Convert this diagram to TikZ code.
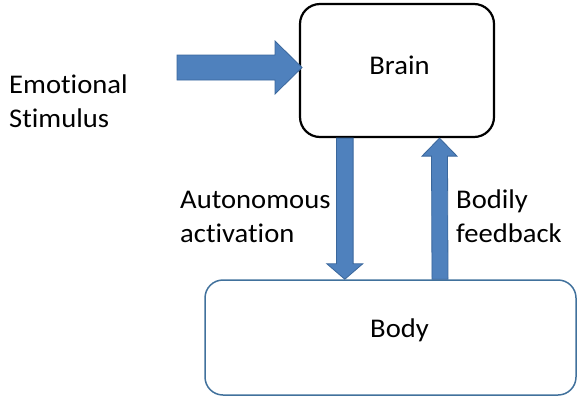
\documentclass[tikz,border=0pt]{standalone}
\usepackage{fontspec}
\setmainfont{Carlito}[FakeStretch=1.06, Ligatures=NoCommon]
\usetikzlibrary{calc}
\definecolor{arrowblue}{HTML}{4F81BD}
\definecolor{arrowedge}{HTML}{3A679C}
\definecolor{bodyedge}{HTML}{41719C}
\begin{document}
\begin{tikzpicture}[x=1pt,y=-1pt,
  txt/.style={inner sep=0pt, font=\fontsize{27}{33.5}\selectfont},
  lbl/.style={txt, align=left, anchor=base west},
  blk/.style={fill=arrowblue, draw=arrowedge, line width=0.8pt, line join=miter}]
\useasboundingbox (0,0) rectangle (577,397);
% boxes
\node[draw=black, line width=2.2pt, rounded corners=20pt,
      minimum width=194pt, minimum height=133pt, inner sep=0pt] (brain) at (397,70.5) {};
\node[draw=bodyedge, line width=1.5pt, rounded corners=18pt,
      minimum width=371pt, minimum height=115pt, inner sep=0pt] (body) at (390.5,337.5) {};
\node[txt, anchor=base] (braintext) at (399.5,74) {Brain};
\node[txt, anchor=base] (bodytext) at (399.5,337) {Body};
% labels (anchor is the baseline of the last line)
\node[lbl] (stim) at (9,127) {Emotional\\Stimulus};
\node[lbl] (auto) at (180,242) {Autonomous\\activation};
\node[lbl] (feed) at (456,242) {Bodily\\feedback};
% stimulus arrow
\coordinate (s0) at (177,67.5);
\coordinate (s1) at (302,67.5);
\draw[blk] ($(s0)+(0,-12.5)$) -- ($(s1)+(-27,-12.5)$) -- ($(s1)+(-27,-26.5)$) -- (s1)
  -- ($(s1)+(-27,26.5)$) -- ($(s1)+(-27,12.5)$) -- ($(s0)+(0,12.5)$) -- cycle;
% down arrow brain -> body
\coordinate (d0) at (brain.south -| 344.8,0);
\coordinate (d1) at (body.north -| 344.8,0);
\draw[blk] ($(d0)+(-8.3,0)$) -- ($(d1)+(-8.3,-15.5)$) -- ($(d1)+(-18,-15.5)$) -- (d1)
  -- ($(d1)+(18,-15.5)$) -- ($(d1)+(8.3,-15.5)$) -- ($(d0)+(8.3,0)$) -- cycle;
% up arrow body -> brain
\coordinate (u0) at (body.north -| 440,0);
\coordinate (u1) at (brain.south -| 439.5,0);
\draw[blk] ($(u0)+(-8,0)$) -- ($(u1)+(-8,18)$) -- ($(u1)+(-17.5,18)$) -- (u1)
  -- ($(u1)+(17.5,18)$) -- ($(u1)+(8,18)$) -- ($(u0)+(8,0)$) -- cycle;
\end{tikzpicture}
\end{document}
